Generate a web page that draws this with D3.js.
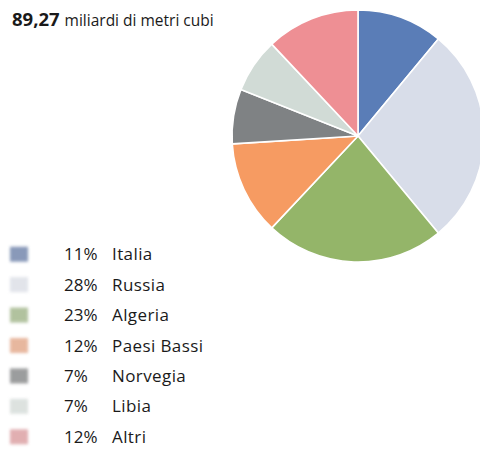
<!DOCTYPE html>
<html>
<head>
<meta charset="utf-8">
<script src="https://cdn.jsdelivr.net/npm/d3@7"></script>
<style>
  html, body { margin: 0; padding: 0; background: #ffffff; }
  svg { display: block; }
  text { font-family: "Open Sans", "Noto Sans", sans-serif; fill: #1a1a1a; }
</style>
</head>
<body>
<svg id="chart" width="480" height="450"></svg>
<script>
// Origine delle importazioni di gas naturale
const totalValue = "89,27";
const totalUnit = "miliardi di metri cubi";
const countries = ["Italia", "Russia", "Algeria", "Paesi Bassi", "Norvegia", "Libia", "Altri"];
const shares = [11, 28, 23, 12, 7, 7, 12];
const colors = ["#5a7db7", "#d8dde9", "#94b569", "#f69b62", "#7f8284", "#d1dbd6", "#ee8f94"];

const svg = d3.select("#chart");

const defs = svg.append("defs");
defs.append("filter").attr("id", "soft")
  .attr("x", "-10%").attr("y", "-10%").attr("width", "120%").attr("height", "120%")
  .append("feGaussianBlur").attr("stdDeviation", 0.7);

// Quadratini della legenda: sfumati e un po' desaturati
const swatchFilter = defs.append("filter").attr("id", "softer")
  .attr("x", "-40%").attr("y", "-40%").attr("width", "180%").attr("height", "180%");
swatchFilter.append("feColorMatrix").attr("type", "saturate").attr("values", 0.65);
swatchFilter.append("feGaussianBlur").attr("stdDeviation", 1.4);

// Titolo
const title = svg.append("text").attr("x", 12).attr("y", 26);
title.append("tspan").attr("font-weight", 700).attr("font-size", 18.5).text(totalValue);
title.append("tspan").attr("font-size", 15.5).attr("dx", 5).text(totalUnit);

// Torta
const data = countries.map((c, i) => ({ name: c, value: shares[i], color: colors[i] }));
const pie = d3.pie().value(d => d.value).sort(null);
const radius = 126;
const arc = d3.arc().innerRadius(0).outerRadius(radius);

const g = svg.append("g")
  .attr("transform", "translate(358,136)")
  .attr("filter", "url(#soft)");

g.selectAll("path")
  .data(pie(data))
  .join("path")
  .attr("d", arc)
  .attr("fill", d => d.data.color)
  .attr("stroke", "#ffffff")
  .attr("stroke-width", 1.6)
  .attr("stroke-linejoin", "round");

// Legenda
const y = d3.scaleBand().domain(countries).range([239, 452]);

const rows = svg.append("g").selectAll("g")
  .data(data)
  .join("g")
  .attr("transform", d => `translate(0,${y(d.name) + y.bandwidth() / 2})`);

rows.append("rect")
  .attr("x", 10).attr("y", -7.5)
  .attr("width", 18).attr("height", 15)
  .attr("fill", d => d.color)
  .attr("opacity", 0.78)
  .attr("filter", "url(#softer)");

rows.append("text")
  .attr("x", 64).attr("y", 6)
  .attr("font-size", 17)
  .text(d => d.value + "%");

rows.append("text")
  .attr("x", 112).attr("y", 6)
  .attr("font-size", 17)
  .attr("letter-spacing", 0.4)
  .text(d => d.name);
</script>
</body>
</html>
